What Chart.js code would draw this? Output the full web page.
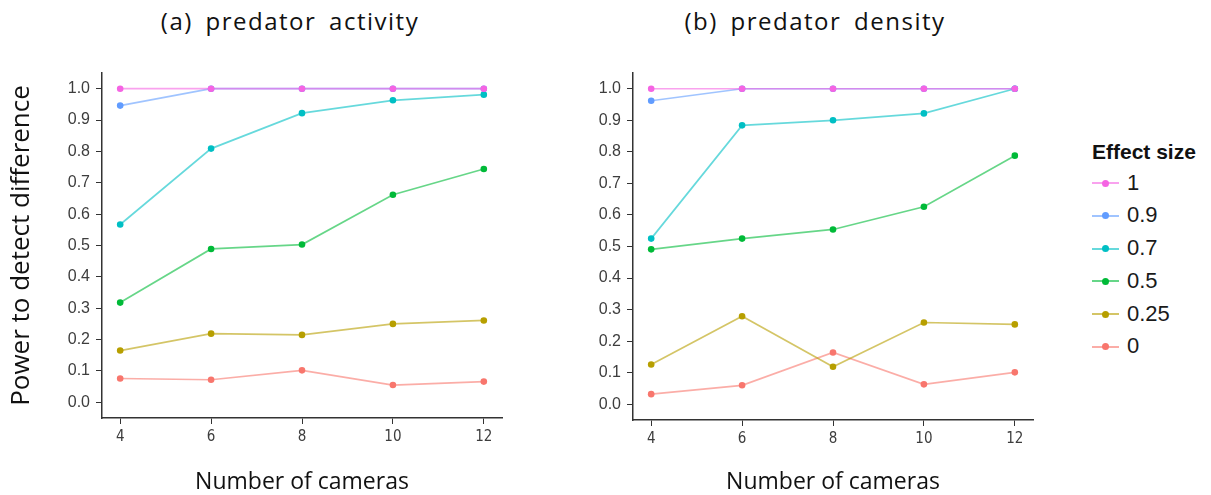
<!DOCTYPE html>
<html>
<head>
<meta charset="utf-8">
<script src="https://cdn.jsdelivr.net/npm/chart.js@4.4.1/dist/chart.umd.min.js"></script>
<style>
  body { margin: 0; background: #fff; width: 1211px; height: 495px; overflow: hidden; position: relative; }
  canvas { position: absolute; top: 0; }
  #chartA { left: 0; }
  #chartB { left: 530px; }
  .ptitle { position: absolute; top: 6px; width: 320px; text-align: center; font: 24px 'Open Sans', sans-serif;
            line-height: 30px; letter-spacing: 1.5px; word-spacing: 5px; color: #111; }
  #legend { position: absolute; left: 1092px; top: 140px; font-family: 'Liberation Sans', Arial, sans-serif; }
  #legend .ltitle { font-weight: bold; font-size: 21px; line-height: 24px; height: 24px; color: #111; margin-bottom: 2.5px; }
  #legend .item { height: 32.8px; line-height: 32.8px; font-size: 22px; color: #1a1a1a; white-space: nowrap; }
  #legend .key { display: inline-block; position: relative; width: 27px; height: 32.8px; vertical-align: top; margin-right: 8px; }
  #legend .key .ln { position: absolute; left: 0; right: 0; top: 15.5px; height: 2px; }
  #legend .key .dt { position: absolute; left: 10px; top: 13px; width: 7px; height: 7px; border-radius: 50%; }
</style>
</head>
<body>
<div class="ptitle" style="left:130px">(a) predator activity</div>
<div class="ptitle" style="left:655px">(b) predator density</div>
<canvas id="chartA" width="512" height="495"></canvas>
<canvas id="chartB" width="510" height="495"></canvas>
<div id="legend"><div class="ltitle">Effect size</div></div>
<script>
// x values and legend labels
const cameras = [4, 6, 8, 10, 12];
const effectSizes = ['1', '0.9', '0.7', '0.5', '0.25', '0'];
const colors = ['#F564E3', '#619CFF', '#00BFC4', '#00BA38', '#B79F00', '#F8766D'];
const yTicks = [0, 0.1, 0.2, 0.3, 0.4, 0.5, 0.6, 0.7, 0.8, 0.9, 1.0];

// (a) predator activity
const activity1   = [1, 1, 1, 1, 1];
const activity09  = [0.946, 1, 1, 1, 1];
const activity07  = [0.567, 0.809, 0.922, 0.963, 0.981];
const activity05  = [0.318, 0.489, 0.503, 0.662, 0.744];
const activity025 = [0.165, 0.219, 0.215, 0.250, 0.261];
const activity0   = [0.076, 0.072, 0.102, 0.055, 0.066];

// (b) predator density
const density1   = [1, 1, 1, 1, 1];
const density09  = [0.962, 1, 1, 1, 1];
const density07  = [0.525, 0.884, 0.900, 0.922, 1.0];
const density05  = [0.491, 0.525, 0.554, 0.626, 0.788];
const density025 = [0.126, 0.279, 0.119, 0.259, 0.253];
const density0   = [0.032, 0.060, 0.164, 0.063, 0.101];

function fade(hex, a) {
  const n = parseInt(hex.slice(1), 16);
  return `rgba(${n >> 16}, ${(n >> 8) & 255}, ${n & 255}, ${a})`;
}

function makeDatasets(series) {
  return series.map((vals, i) => ({
    label: effectSizes[i],
    data: vals.map((v, j) => ({ x: cameras[j], y: v })),
    borderColor: fade(colors[i], 0.6),
    backgroundColor: colors[i],
    pointBackgroundColor: colors[i],
    pointBorderWidth: 0,
    pointRadius: 3.3,
    borderWidth: 1.7,
    tension: 0,
    clip: false
  }));
}

const axisColor = '#333';
const tickColor = '#3d3d3d';

function makeOptions(opts) {
  return {
    responsive: false,
    animation: false,
    layout: { padding: { top: 73, right: opts.padRight, left: 0, bottom: 0 } },
    plugins: { legend: { display: false }, tooltip: { enabled: false } },
    scales: {
      x: {
        type: 'linear', min: 3.6, max: 12.4,
        afterBuildTicks: s => { s.ticks = cameras.map(v => ({ value: v })); },
        afterFit: s => { s.height = opts.xHeight; },
        border: { display: true, color: axisColor, width: 1.5 },
        grid: { drawOnChartArea: false, drawTicks: true, tickLength: 6, color: axisColor },
        ticks: {
          color: tickColor, padding: 4,
          font: { family: "'Liberation Sans Narrow', 'DejaVu Sans Condensed', sans-serif", size: 15 },
          callback: v => String(v)
        },
        title: {
          display: true, text: 'Number of cameras', color: '#111',
          font: { family: "'Open Sans', sans-serif", size: 23, lineHeight: 1 },
          padding: { top: 0, bottom: 1 }
        }
      },
      y: {
        type: 'linear', min: -0.05, max: 1.05,
        afterBuildTicks: s => { s.ticks = yTicks.map(v => ({ value: v })); },
        afterFit: s => { s.width = opts.yWidth; },
        border: { display: true, color: axisColor, width: 1.5 },
        grid: { drawOnChartArea: false, drawTicks: true, tickLength: 6, color: axisColor },
        ticks: {
          color: tickColor, padding: 6,
          font: { family: "'Liberation Sans', Arial, sans-serif", size: 16 },
          callback: v => v.toFixed(1)
        },
        title: {
          display: opts.yTitle, text: 'Power to detect difference', color: '#111',
          font: { family: "'Open Sans', sans-serif", size: 26, lineHeight: 1 },
          padding: { top: 9, bottom: 0 }
        }
      }
    }
  };
}

new Chart(document.getElementById('chartA'), {
  type: 'line',
  data: { datasets: makeDatasets([activity1, activity09, activity07, activity05, activity025, activity0]) },
  options: makeOptions({ padRight: 10, xHeight: 77, yWidth: 102, yTitle: true })
});

new Chart(document.getElementById('chartB'), {
  type: 'line',
  data: { datasets: makeDatasets([density1, density09, density07, density05, density025, density0]) },
  options: makeOptions({ padRight: 7, xHeight: 75, yWidth: 103, yTitle: false })
});

// legend (line + point keys)
const legend = document.getElementById('legend');
effectSizes.forEach((lab, i) => {
  const item = document.createElement('div');
  item.className = 'item';
  item.innerHTML = `<span class="key"><span class="ln" style="background:${fade(colors[i], 0.6)}"></span>` +
    `<span class="dt" style="background:${colors[i]}"></span></span>${lab}`;
  legend.appendChild(item);
});
</script>
</body>
</html>
